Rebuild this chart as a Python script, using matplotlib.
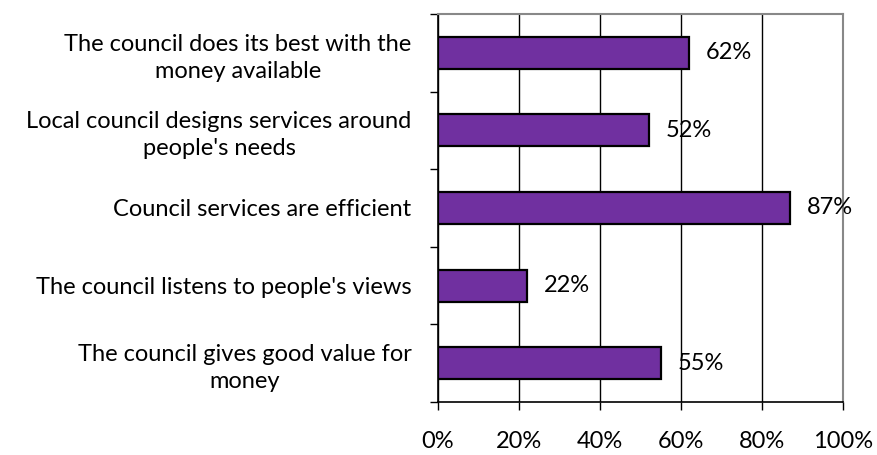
import matplotlib
matplotlib.use("Agg")
import matplotlib.pyplot as plt
import numpy as np

categories = [
    "The council does its best with the\nmoney available",
    "Local council designs services around\npeople's needs",
    "Council services are efficient",
    "The council listens to people's views",
    "The council gives good value for\nmoney",
]
values = [62, 52, 87, 22, 55]
xticks = [0, 20, 40, 60, 80, 100]
xtick_labels = ["0%", "20%", "40%", "60%", "80%", "100%"]

plt.rcParams['font.family'] = ['Lato', 'DejaVu Sans']
FS = 17

fig = plt.figure(figsize=(8.78, 4.55), dpi=100)
ax = fig.add_axes([438/878, 1 - 402/455, (843-438)/878, (402-14)/455])

n = len(categories)
ypos = np.arange(n)[::-1]
ax.barh(ypos, values, height=0.41, color="#7030A0", edgecolor="black", linewidth=1.6, zorder=3)

ax.set_xlim(0, 100)
ax.set_ylim(-0.5, n - 0.5)
ax.set_xticks(xticks)
ax.set_xticklabels(xtick_labels, fontsize=FS)
ax.xaxis.grid(True, color="black", linewidth=1.0, zorder=0)
ax.set_axisbelow(True)

ax.set_yticks(ypos)
ax.set_yticklabels(categories, fontsize=FS, multialignment="center", linespacing=1.35)
ax.set_yticks(np.arange(-0.5, n, 1.0), minor=True)
ax.tick_params(axis="y", which="major", length=0, pad=19)
ax.tick_params(axis="y", which="minor", length=6, width=1.0, direction="out")
ax.tick_params(axis="x", which="major", length=6, width=1.0, direction="out", pad=15)

for side in ["left", "bottom"]:
    ax.spines[side].set_color("black")
    ax.spines[side].set_linewidth(1.2)
for side in ["top", "right"]:
    ax.spines[side].set_color("#888888")
    ax.spines[side].set_linewidth(1.5)

for y, v in zip(ypos, values):
    ax.annotate(f"{v}%", xy=(v, y), xytext=(17, 0), textcoords="offset pixels",
                ha="left", va="center", fontsize=FS, zorder=4)

fig.savefig("out.png", dpi=100)
